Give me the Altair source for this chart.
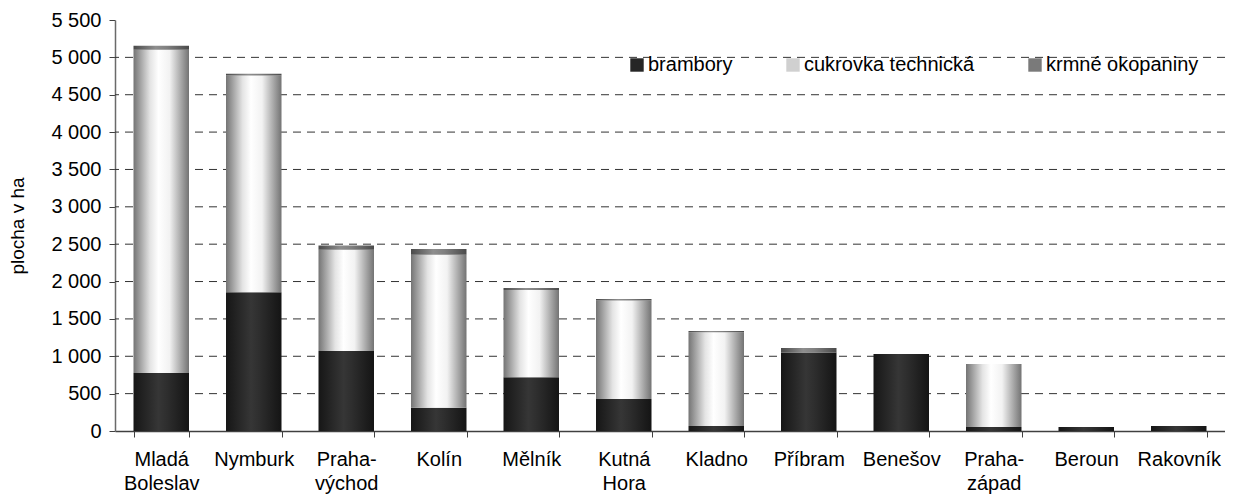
import altair as alt
import pandas as pd

districts = ["Mladá Boleslav", "Nymburk", "Praha-východ", "Kolín", "Mělník", "Kutná Hora",
             "Kladno", "Příbram", "Benešov", "Praha-západ", "Beroun", "Rakovník"]
brambory = [777, 1857, 1071, 312, 719, 428, 67, 1050, 1031, 54, 54, 67]
cukrovka = [4325, 2901, 1353, 2045, 1169, 1317, 1254, 0, 0, 843, 0, 0]
krmne = [53, 22, 58, 80, 27, 23, 18, 61, 0, 0, 0, 0]
series = ["brambory", "cukrovka technická", "krmné okopaniny"]
legend_colors = ["#262626", "#d0d0d0", "#7a7a7a"]
y_ticks = [0, 500, 1000, 1500, 2000, 2500, 3000, 3500, 4000, 4500, 5000, 5500]
grid_values = [500, 1000, 1500, 2000, 2500, 3000, 3500, 4000, 4500, 5000]

rows = []
for i, d in enumerate(districts):
    for k, vals in enumerate([brambory, cukrovka, krmne]):
        rows.append({"okres": d, "plodina": series[k], "poradi": k, "plocha": vals[i]})
df = pd.DataFrame(rows)
grid_df = pd.DataFrame({"y1": grid_values})

FONT = "Liberation Sans"


def grad(stops):
    return alt.Gradient(
        gradient="linear", x1=0, x2=1, y1=0, y2=0,
        stops=[alt.GradientStop(color=c, offset=o) for o, c in stops],
    )


gradients = [
    grad([(0, "#161616"), (0.45, "#363636"), (0.6, "#2e2e2e"), (1, "#141414")]),
    grad([(0, "#747474"), (0.3, "#e4e4e4"), (0.45, "#ffffff"), (0.65, "#f2f2f2"), (1, "#737373")]),
    grad([(0, "#4a4a4a"), (0.4, "#8e8e8e"), (0.6, "#808080"), (1, "#4a4a4a")]),
]

x_enc = alt.X(
    "okres:N", sort=districts, title=None,
    scale=alt.Scale(paddingInner=0.4, paddingOuter=0.2),
    axis=alt.Axis(
        labelAngle=0, tickBand="extent", labelFontSize=20, labelFont=FONT,
        labelColor="#000000", labelLineHeight=24, labelPadding=12, labelLimit=200,
        labelExpr="split(replace(replace(datum.label, ' ', '|'), '-', '-|'), '|')",
        tickSize=6, tickColor="#404040", domainColor="#404040", domainWidth=1.5,
        grid=False,
    ),
)
y_scale = alt.Scale(domain=[0, 5500], nice=False)
y_enc = alt.Y(
    "y1:Q", title="plocha v ha", scale=y_scale,
    axis=alt.Axis(
        values=y_ticks, labelFontSize=20, labelFont=FONT, labelColor="#000000",
        labelExpr="replace(format(datum.value, ','), ',', ' ')",
        labelOverlap=False, labelBound=False, labelFlush=False,
        labelPadding=8, tickSize=6, tickColor="#404040",
        domainColor="#6a6a6a", domainWidth=1.5,
        titleFont=FONT, titleFontSize=19, titleFontWeight="normal", titleColor="#000000",
        titlePadding=23, grid=False,
    ),
)

grid_layer = alt.Chart(grid_df).mark_rule(
    color="#333333", strokeDash=[8, 6], strokeWidth=1
).encode(y=y_enc)

base = alt.Chart(df).transform_stack(
    stack="plocha", groupby=["okres"], as_=["y0", "y1"],
    sort=[alt.SortField("poradi", order="ascending")],
)

layers = []
for s, g in zip(series, gradients):
    layers.append(
        base.transform_filter(alt.datum.plodina == s)
        .mark_bar(fill=g, strokeWidth=0)
        .encode(x=x_enc, y=y_enc, y2="y0:Q")
    )

legend_layer = base.mark_square(opacity=0, size=1).encode(
    x=x_enc, y=y_enc,
    color=alt.Color(
        "plodina:N",
        scale=alt.Scale(domain=series, range=legend_colors),
        legend=alt.Legend(
            orient="none", legendX=512, legendY=35, direction="horizontal",
            title=None, symbolType="square", symbolSize=180, symbolOpacity=1,
            symbolStrokeWidth=0, labelFont=FONT, labelFontSize=20, labelLimit=400,
            labelColor="#000000", labelOffset=1, columnPadding=50,
        ),
    ),
)

chart = (
    alt.layer(grid_layer, *layers, legend_layer)
    .properties(
        width=1110, height=411,
        autosize=alt.AutoSizeParams(type="none"),
        padding={"left": 107, "top": 12, "right": 0, "bottom": 66},
    )
    .configure(font=FONT)
    .configure_view(stroke="transparent", strokeWidth=0)
    .configure_axis(grid=False)
)

chart.save("out.html", embed_options={"renderer": "svg", "actions": False})
